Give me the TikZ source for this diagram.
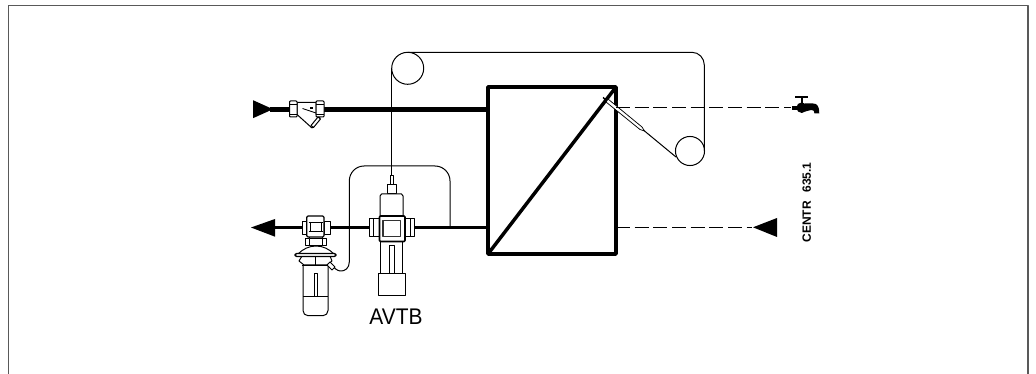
\documentclass[tikz,border=0pt]{standalone}
\usepackage{fontspec}
\setmainfont{Liberation Sans}
\tikzset{
  thin line/.style={line width=0.75pt,black},
  hair/.style={line width=0.6pt,black},
  pipe/.style={line width=2.9pt,black},
  wall/.style={line width=2.6pt,black},
  dash line/.style={line width=0.75pt,black,dash pattern=on 10.5pt off 3.5pt},
  framing/.style={line width=1.1pt,black!65},
  valve/.style={line width=0.75pt,black,fill=white},
  head/.style={fill=black,draw=none},
}
\begin{document}
\begin{tikzpicture}[x=0.75pt,y=-0.75pt,line join=round]
\useasboundingbox (0,0) rectangle (1036,374);
% frame
\draw[framing] (8.5,374) -- (8.5,5.7) -- (1028,5.7) -- (1028,374);
% coordinates
\coordinate (inS) at (270,109.2);
\coordinate (inE) at (488,109.2);
\coordinate (retS) at (272,227.5);
\coordinate (retE) at (488,227.5);
% pipes
\draw[pipe,line width=3.6pt] (inS) -- (inE);
\draw[pipe] (retS) -- (retE);
\node[inner sep=0pt] (inArrow) at (253,109.2) {};
\fill[head] (inArrow.center) ++(0,-9) -- (273,109.2) -- (253,118.2) -- cycle;
\node[inner sep=0pt] (retArrow) at (251,227.5) {};
\fill[head] (retArrow.center) -- (275,219) -- (275,236.7) -- cycle;
% heat exchanger
\node[draw,wall,minimum width=96pt,minimum height=125.25pt,inner sep=0pt,outer sep=0pt,anchor=north west] (hex) at (488,87) {};
\draw[wall] (hex.south west) -- (hex.north east);
% capillary to sensor
\coordinate (c1) at (407.7,68.3);
\node[draw,thin line,circle,minimum size=24pt,inner sep=0pt] (wheelA) at (c1) {};
\node[draw,thin line,circle,minimum size=21.8pt,inner sep=0pt] (wheelB) at (690,151) {};
\coordinate (senT) at (391.6,176);
\draw[thin line] (senT) -- (391.6,68.3);
\draw[thin line] (407.7,52.3) -- (692,52.3) to[out=0,in=90] (704.3,65) -- (704.3,151);
\coordinate (bulb) at (607,100);
\draw[thin line] (bulb) -- (676,157);
% sensor bulb
\draw[valve,line width=0.55pt] (606,102) -- (608,99) -- (642,127) -- (644.5,131) -- (640,129.5) -- cycle;
\draw[line width=1.1pt] (603,97.5) -- (607,101);
% dashed
\node[inner sep=0pt] (tapN) at (792,107.7) {};
\node[inner sep=0pt] (coldN) at (753,227.3) {};
\draw[dash line] (616,107.7) -- (tapN);
\draw[dash line] (616,227.3) -- (coldN);
\fill[head] (coldN.center) -- (777,218) -- (777,237) -- cycle;
% tap
\fill[black] (791.7,105.7) rectangle (798,109.7);
\fill[black] (801.7,107.7) circle (5.3);
\draw[line width=1.4pt] (801.7,97) -- (801.7,104);
\draw[line width=1.5pt] (795,97) -- (808,97);
\fill[black] (805,103.5) -- (813,103.5) .. controls (817.5,103.5) and (819.3,106.5) .. (819.3,113.5) -- (814.5,113.5) .. controls (814.5,110.5) and (813.5,110) .. (811,110) -- (805,111.5) -- cycle;
% strainer
\draw[valve] (297,102.5) -- (316,102.5) -- (316,114.5) -- (320,117) -- (312,128) -- (297,114.5) -- cycle;
\draw[hair] (302.5,108.5) -- (316,113);
\fill (309.5,107) rectangle (313,109.5);
\draw[valve,rounded corners=0.6pt] (289.5,101) rectangle (297,117);
\draw[hair] (289.5,104) -- (297,104) (289.5,114) -- (297,114);
\draw[valve,rounded corners=0.6pt] (316,101) rectangle (324,117);
\draw[hair] (316,104) -- (324,104) (316,114) -- (324,114);
\draw[valve] (311,125.5) -- (318,117) -- (320.5,119) -- (313.5,127.5) -- cycle;
% impulse loop
\coordinate (tee) at (450,227);
\coordinate (conn) at (332,265);
\draw[thin line] (tee) -- (450,181) to[out=90,in=0] (435,166) -- (364,166) to[out=180,in=90] (349.3,181) -- (349.3,262) .. controls (349.3,268) and (345,271.5) .. (340,271) .. controls (337,270.5) and (334,268) .. (conn);
% AVTB
\draw[valve] (390,176) rectangle (393,185);
\draw[valve] (387,185) rectangle (396,194);
\draw[valve] (380,216) -- (380,196) -- (381.5,194) -- (401.5,194) -- (403,196) -- (403,216) -- cycle;
\draw[valve] (369.3,219) rectangle (379.5,237);
\draw[hair] (373,219) -- (373,237);
\draw[valve] (405,219) rectangle (414.3,237);
\draw[hair] (410.5,219) -- (410.5,237);
\draw[valve] (380.7,242) rectangle (402.7,274);
\draw[valve] (389,246) rectangle (394,274);
\draw[valve] (378,274) rectangle (405,295);
\draw[black,fill=white,line width=1.2pt,rounded corners=0.8pt] (379.5,216) rectangle (405,241.5);
\draw[line width=0.9pt,black!80] (382.9,220.2) rectangle (400.8,236.8);
\node[font=\fontsize{15.7pt}{16pt}\selectfont,inner sep=0pt,yscale=1.08] (avtb) at (396,316.5) {AVTB};
% left valve (regulator)
\draw[valve] (303,265) -- (303,310.5) to[out=-90,in=180] (308,315.7) -- (323,315.7) to[out=0,in=-90] (328,310.5) -- (328,265) -- cycle;
\draw[hair] (303,296) -- (328,296);
\draw[line width=0.6pt] (314,273) rectangle (317,296);
\draw[valve] (302,256) -- (299,261) -- (304,265) -- (327,265) -- (332,261) -- (330,256) -- cycle;
\draw[line width=1.2pt] (302,265.5) -- (329,265.5);
\draw[hair] (315.5,256) -- (315.5,265);
\draw[valve] (330,262) -- (335,267) -- (332,270) -- (327,265) -- cycle;
\draw[valve] (298,254) .. controls (303,249) and (309,246) .. (316,246) .. controls (323,246) and (329,249) .. (334,254) -- cycle;
\draw[valve,rounded corners=1.5pt,line width=1pt] (295,253.5) rectangle (336,256.5);
\draw[valve] (305,239) rectangle (326,246);
\draw[hair] (309,239) -- (309,246) (322,239) -- (322,246);
\draw[valve] (309,237) rectangle (322,239);
\draw[valve] (302,222) rectangle (307,235);
\draw[valve] (324,222) rectangle (330,235);
\draw[valve,line width=0.9pt,rounded corners=1pt] (306.7,216) rectangle (324,237);
\draw[hair] (308.5,222) -- (322.5,222) (308.5,231) -- (322.5,231);
\draw[hair] (310,222) -- (310,231) (321,222) -- (321,231);
% note
\node[rotate=90,font=\bfseries\fontsize{9pt}{10pt}\selectfont,inner sep=0pt] (note) at (806.7,202.5) {CENTR\hspace{4pt} 635.1};
\end{tikzpicture}
\end{document}
